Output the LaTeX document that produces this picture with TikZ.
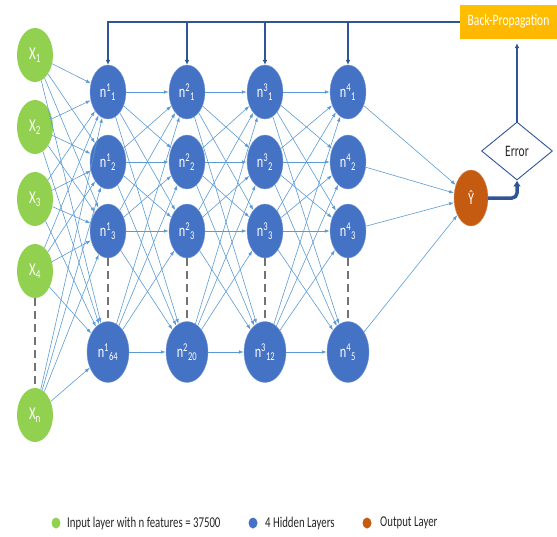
\documentclass[tikz,border=0pt]{standalone}
\usepackage{fontspec}
\setmainfont{Carlito}[FakeStretch=0.72]
\usetikzlibrary{shapes.geometric,arrows.meta}
\definecolor{ingreen}{HTML}{92D050}
\definecolor{hidblue}{HTML}{4472C4}
\definecolor{outorange}{HTML}{C55A11}
\definecolor{wireblue}{HTML}{5B9BD5}
\definecolor{fbblue}{HTML}{2F5597}
\definecolor{bpgold}{HTML}{FFC000}
\begin{document}
\begin{tikzpicture}[x=1pt,y=-1pt,
  iv/.style={ellipse,fill=ingreen,minimum width=36pt,minimum height=54pt,inner sep=0pt,
    text=white,font=\fontsize{18}{18}\selectfont},
  hv/.style={ellipse,fill=hidblue,draw=hidblue!70!white,minimum width=36pt,minimum height=54pt,
    inner sep=0pt,text=white,font=\fontsize{17}{17}\selectfont},
  hbig/.style={hv,minimum width=42pt,minimum height=61pt},
  ov/.style={ellipse,fill=outorange,draw=outorange!70!white,minimum width=34pt,minimum height=56pt,
    inner sep=0pt,text=white,font=\fontsize{17}{17}\selectfont},
  wire/.style={draw=wireblue!75!white,line width=0.6pt,-{Latex[length=5pt,width=3.5pt]},wireblue},
  fb/.style={draw=fbblue,line width=2pt,-{Latex[length=5pt,width=5pt]}},
  gap/.style={draw=black!55,line width=1.3pt,dash pattern=on 8pt off 5pt},
  lgdot/.style={ellipse,minimum width=9pt,minimum height=11pt,inner sep=0pt},
  lgtext/.style={anchor=west,inner sep=0pt,text=black!85,font=\fontsize{15}{15}\selectfont}]
\useasboundingbox (0,0) rectangle (557,536);
% input layer
\foreach \i/\yy/\lab in {1/55/1,2/127/2,3/199/3,4/271/4,5/415/n}
  \node[iv] (x\i) at (35,\yy) {X\textsubscript{\lab}};
\draw[gap] (x4.south) -- (x5.north);
% hidden layers
\foreach \l/\xx/\last in {1/108/64,2/187/20,3/265/12,4/348/5} {
  \foreach \j/\yy in {1/92,2/162,3/231}
    \node[hv] (h\l\j) at (\xx,\yy) {n\textsuperscript{\l}\textsubscript{\j}};
  \node[hbig] (h\l4) at (\xx,352) {n\textsuperscript{\l}\textsubscript{\last}};
  \draw[gap] (h\l3.south) -- (h\l4.north);
}
% output
\node[ov] (yhat) at (471,198) {\^{Y}};
\node[diamond,draw=fbblue,line width=0.9pt,fill=white,minimum width=71pt,minimum height=58pt,
  inner sep=0pt,font=\fontsize{16}{16}\selectfont,text=black!85] (err) at (517,151) {Error};
\node[rectangle,top color=bpgold,bottom color=bpgold!85!orange,minimum width=97pt,minimum height=33pt,
  inner sep=0pt,text=white,font=\fontsize{16}{16}\selectfont] (bp) at (508.5,21.5) {Back-Propagation};
% connections
\foreach \i in {1,...,5}
  \foreach \j in {1,...,4}
    \draw[wire] (x\i) -- (h1\j);
\foreach \l in {1,2,3} {
  \pgfmathtruncatemacro\m{\l+1}
  \foreach \i in {1,...,4}
    \foreach \j in {1,...,4}
      \draw[wire] (h\l\i) -- (h\m\j);
}
\foreach \j in {1,...,4}
  \draw[wire] (h4\j) -- (yhat);
% error and back-propagation
\draw[fb,line width=3.5pt,rounded corners=5pt,-{Latex[length=6pt,width=8pt]}] (yhat.east) -| (err.south);
\draw[fb] (err.north) -- ([yshift=-5pt]err.north |- bp.south);
\draw[fb] (bp.west) -| (h11.north);
\foreach \l in {2,3,4}
  \draw[fb] (h\l1.north |- bp.west) -- (h\l1.north);
% legend
\node[lgdot,fill=ingreen] (lg1) at (56,523) {};
\node[lgtext] (lgt1) at (67,523) {Input layer with n features = 37500};
\node[lgdot,fill=hidblue] (lg2) at (253,523) {};
\node[lgtext] (lgt2) at (265,523) {4 Hidden Layers};
\node[lgdot,fill=outorange] (lg3) at (367,523) {};
\node[lgtext] (lgt3) at (380,523) {Output Layer};
\end{tikzpicture}
\end{document}
